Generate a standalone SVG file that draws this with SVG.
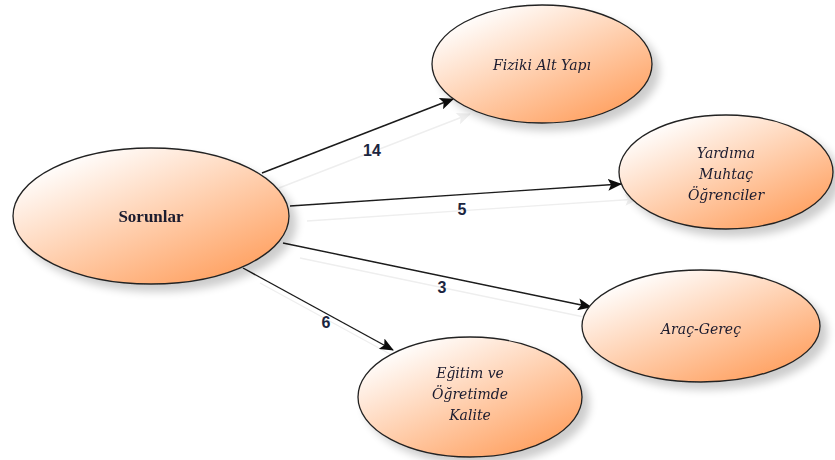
<svg xmlns="http://www.w3.org/2000/svg" width="835" height="460" viewBox="0 0 835 460">
<style>
.node{stroke:#222;stroke-width:1.3;fill:url(#g)}
.lbl{font-family:"DejaVu Serif","Liberation Serif",serif;font-style:italic;font-size:14px;fill:#1a1a2e;text-anchor:middle}
.main{font-family:"Liberation Serif",serif;font-weight:bold;font-size:17px;fill:#1a1a2e;text-anchor:middle}
.edge{stroke:#1a1a1a;stroke-width:1.4;fill:none;marker-end:url(#arr)}
.num{font-family:"Liberation Sans",sans-serif;font-weight:bold;font-size:16px;fill:#1b2540;text-anchor:middle}
</style>
<defs>
<linearGradient id="g" x1="0.15" y1="0.1" x2="0.85" y2="0.95">
<stop offset="0" stop-color="#ffffff"/>
<stop offset="0.5" stop-color="#ffcfae"/>
<stop offset="1" stop-color="#ff9f5e"/>
</linearGradient>
<filter id="sh" x="-20%" y="-20%" width="150%" height="150%">
<feGaussianBlur in="SourceAlpha" stdDeviation="4"/>
<feOffset dx="7" dy="7"/>
<feComponentTransfer><feFuncA type="linear" slope="0.2"/></feComponentTransfer>
<feMerge><feMergeNode/><feMergeNode in="SourceGraphic"/></feMerge>
</filter>
<filter id="lsh" x="-20%" y="-50%" width="150%" height="250%">
<feOffset in="SourceAlpha" dx="17" dy="15"/>
<feComponentTransfer><feFuncA type="linear" slope="0.07"/></feComponentTransfer>
<feMerge><feMergeNode/><feMergeNode in="SourceGraphic"/></feMerge>
</filter>
<marker id="arr" viewBox="0 0 14 12" refX="13" refY="6" markerWidth="14" markerHeight="12" markerUnits="userSpaceOnUse" orient="auto">
<path d="M0,0 L14,6 L0,12 L3,6 Z" fill="#111"/>
</marker>
</defs>
<g id="connectors" filter="url(#lsh)">
<line class="edge" x1="262" y1="173" x2="453" y2="99"/>
<line class="edge" x1="290" y1="206" x2="621" y2="184"/>
<line class="edge" x1="283" y1="243" x2="591" y2="307"/>
<line class="edge" x1="243" y1="268" x2="393" y2="350"/>
</g>
<g id="labels">
<text class="num" x="372" y="156">14</text>
<text class="num" x="462" y="215">5</text>
<text class="num" x="442" y="293">3</text>
<text class="num" x="326" y="328">6</text>
</g>
<g id="n-sorunlar" filter="url(#sh)">
<ellipse class="node" cx="151" cy="216" rx="138" ry="68"/>
<text class="main" x="151" y="222">Sorunlar</text>
</g>
<g id="n-fiziki" filter="url(#sh)">
<ellipse class="node" cx="542" cy="64" rx="110" ry="59"/>
<text class="lbl" x="542" y="70">Fiziki Alt Yapı</text>
</g>
<g id="n-yardima" filter="url(#sh)">
<ellipse class="node" cx="726" cy="172" rx="107" ry="57"/>
<text class="lbl" x="726" y="158">Yardıma</text>
<text class="lbl" x="726" y="179">Muhtaç</text>
<text class="lbl" x="726" y="200">Öğrenciler</text>
</g>
<g id="n-arac" filter="url(#sh)">
<ellipse class="node" cx="701" cy="326" rx="119" ry="56"/>
<text class="lbl" x="701" y="334">Araç-Gereç</text>
</g>
<g id="n-egitim" filter="url(#sh)">
<ellipse class="node" cx="470" cy="397" rx="112" ry="60"/>
<text class="lbl" x="470" y="378">Eğitim ve</text>
<text class="lbl" x="470" y="399">Öğretimde</text>
<text class="lbl" x="470" y="420">Kalite</text>
</g>
</svg>
